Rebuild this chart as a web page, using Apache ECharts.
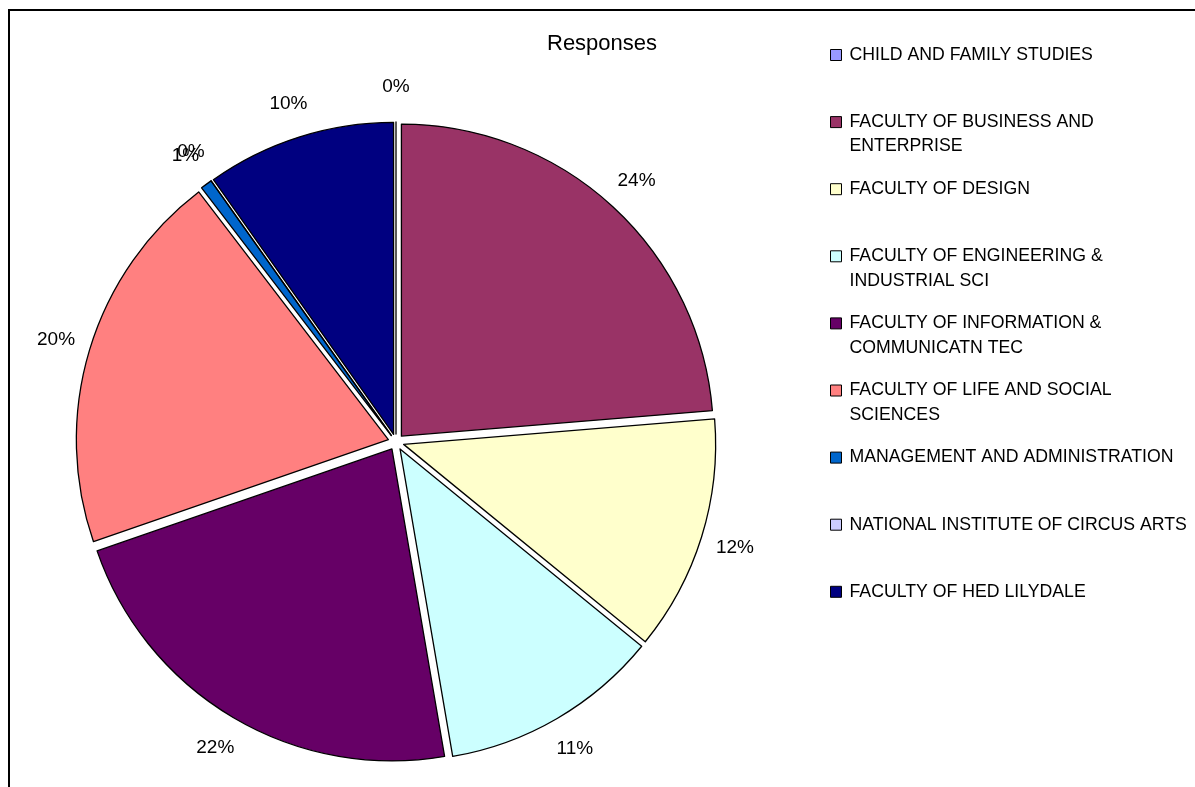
<!DOCTYPE html>
<html>
<head>
<meta charset="utf-8">
<script src="https://cdn.jsdelivr.net/npm/echarts@6/dist/echarts.min.js"></script>
<style>
html,body{margin:0;padding:0;background:#fff;}
#c{width:1195px;height:787px;}
</style>
</head>
<body>
<div id="c"></div>
<script>
// ---- data ----
const chartTitle = 'Responses';
const categories = [
  'CHILD AND FAMILY STUDIES',
  'FACULTY OF BUSINESS AND ENTERPRISE',
  'FACULTY OF DESIGN',
  'FACULTY OF ENGINEERING & INDUSTRIAL SCI',
  'FACULTY OF INFORMATION & COMMUNICATN TEC',
  'FACULTY OF LIFE AND SOCIAL SCIENCES',
  'MANAGEMENT AND ADMINISTRATION',
  'NATIONAL INSTITUTE OF CIRCUS ARTS',
  'FACULTY OF HED LILYDALE'
];
const legendLabels = [
  'CHILD AND FAMILY STUDIES',
  'FACULTY OF BUSINESS AND\nENTERPRISE',
  'FACULTY OF DESIGN',
  'FACULTY OF ENGINEERING &\nINDUSTRIAL SCI',
  'FACULTY OF INFORMATION &\nCOMMUNICATN TEC',
  'FACULTY OF LIFE AND SOCIAL\nSCIENCES',
  'MANAGEMENT AND ADMINISTRATION',
  'NATIONAL INSTITUTE OF CIRCUS ARTS',
  'FACULTY OF HED LILYDALE'
];
const responseShares = [0, 23.7, 12.2, 11.4, 22.4, 19.9, 0.6, 0, 9.8];
const colors = ['#9999FF', '#993366', '#FFFFCC', '#CCFFFF', '#660066', '#FF8080', '#0066CC', '#CCCCFF', '#000080'];

// ---- chart ----
const FONT = "'Liberation Sans', Arial, sans-serif";
const chart = echarts.init(document.getElementById('c'), null, {renderer: 'canvas'});
const cx = 396, cy = 442;

const pieData = categories.map((n, i) => ({
  name: n, value: responseShares[i], selected: true,
  itemStyle: {color: colors[i]}
}));
const labelData = categories.map((n, i) => ({name: n, value: responseShares[i]}));
const labelMap = {};
categories.forEach((n, i) => {
  const twoLine = legendLabels[i].indexOf('\n') >= 0;
  // leading blank line keeps the first text line level with the marker
  labelMap[n] = twoLine ? ' \n' + legendLabels[i] : legendLabels[i];
});

const legends = categories.map((n, i) => {
  const twoLine = legendLabels[i].indexOf('\n') >= 0;
  const slotY = 55 + i * 67.1;
  return {
    show: true, orient: 'vertical', left: 830, top: slotY - 36.75, padding: 0,
    data: [n], icon: 'rect', itemWidth: 11, itemHeight: 11, itemGap: 0,
    selectedMode: false,
    formatter: name => labelMap[name],
    itemStyle: {borderColor: '#000', borderWidth: 1},
    textStyle: {
      fontFamily: FONT, fontSize: 17.7, lineHeight: 24.5, color: '#000',
      padding: twoLine ? [0, 0, 0, 3] : [24.5, 0, 24.5, 3]
    }
  };
});

chart.setOption({
  animation: false,
  backgroundColor: '#fff',
  title: {
    text: chartTitle, left: 547, top: 33, padding: 0,
    textStyle: {fontFamily: FONT, fontSize: 22, fontWeight: 'normal', color: '#000'}
  },
  legend: legends,
  graphic: [{
    type: 'rect', silent: true, z: -1,
    shape: {x: 9, y: 10, width: 1300, height: 900},
    style: {fill: 'none', stroke: '#000', lineWidth: 2}
  }],
  series: [
    {
      type: 'pie', center: [cx, cy], radius: 312, startAngle: 90, clockwise: true,
      selectedMode: 'multiple', selectedOffset: 8,
      avoidLabelOverlap: false,
      label: {show: false}, labelLine: {show: false},
      itemStyle: {borderColor: '#000', borderWidth: 1.3},
      select: {itemStyle: {borderColor: '#000', borderWidth: 1.3}},
      emphasis: {disabled: true},
      data: pieData
    },
    {
      type: 'pie', center: [cx, cy], radius: [342, 362], startAngle: 90, clockwise: true,
      silent: true, avoidLabelOverlap: false,
      labelLayout: {hideOverlap: false},
      itemStyle: {color: 'rgba(0,0,0,0)', borderWidth: 0},
      label: {
        show: true, position: 'inside', color: '#000',
        fontFamily: FONT, fontSize: 19,
        formatter: p => Math.round(p.percent) + '%'
      },
      labelLine: {show: false},
      emphasis: {disabled: true},
      data: labelData
    }
  ]
});
</script>
</body>
</html>
